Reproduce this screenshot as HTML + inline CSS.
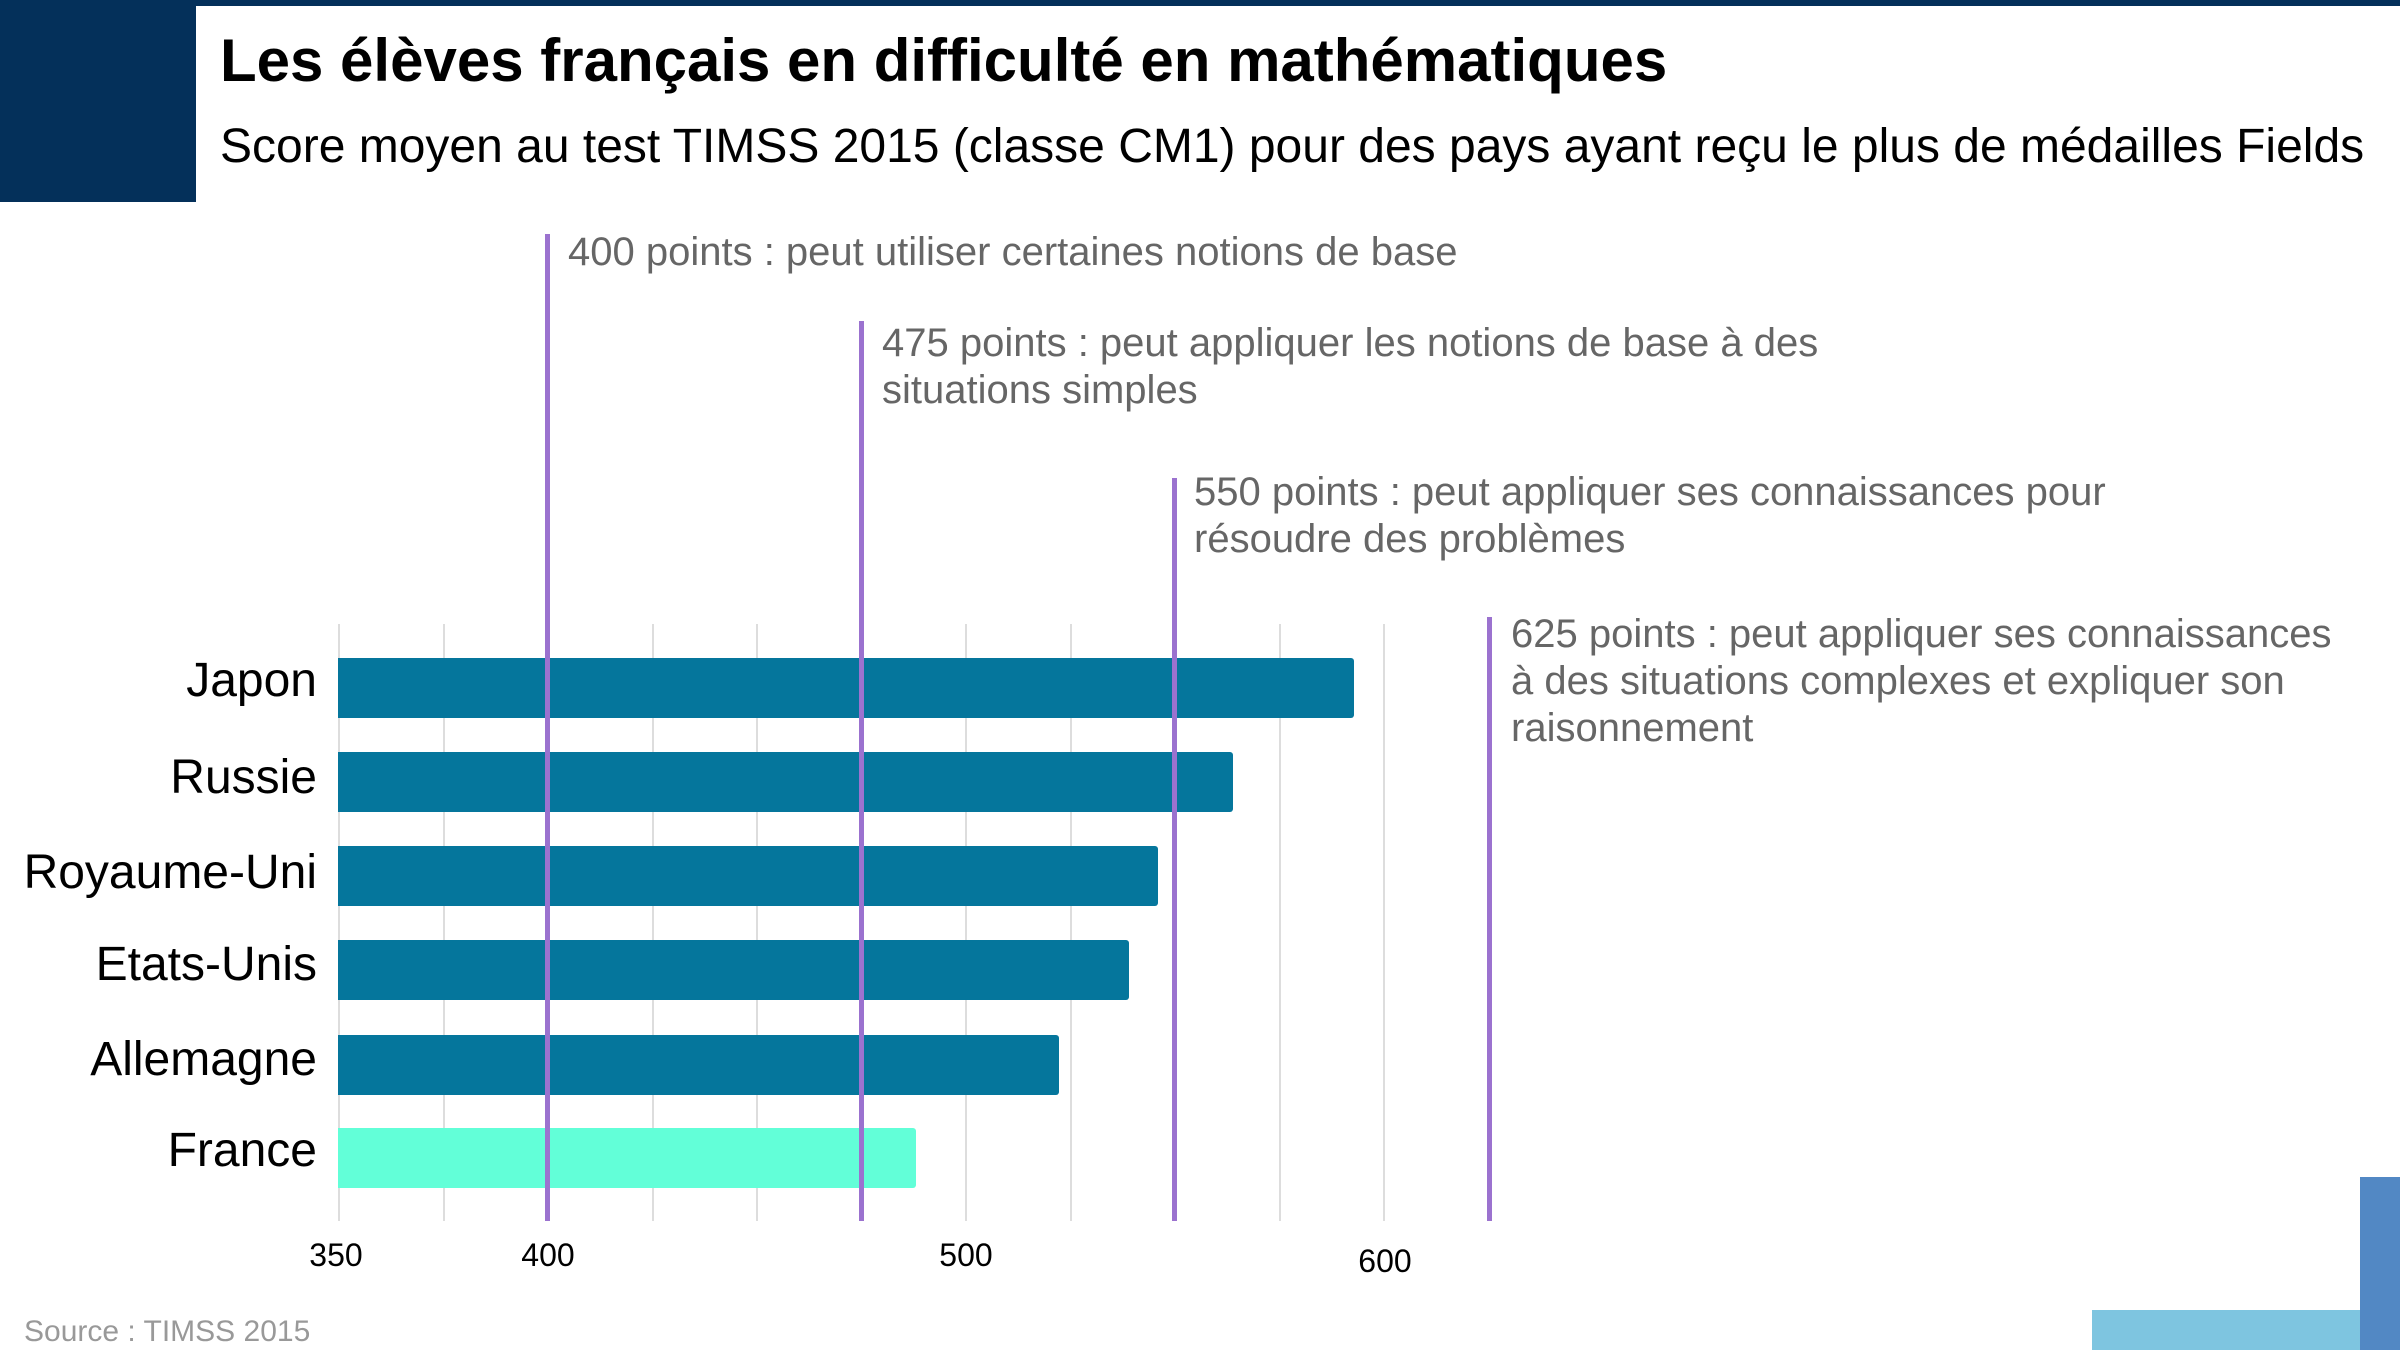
<!DOCTYPE html>
<html><head><meta charset="utf-8"><style>
body{margin:0;width:2400px;height:1350px;position:relative;background:#fff;overflow:hidden;font-family:"Liberation Sans",sans-serif}
.a{position:absolute}
.t{white-space:nowrap}
.ann{color:#666;font-size:40px;line-height:47px;white-space:nowrap}
.lab{right:2083px;font-size:48px;color:#000;text-align:right;white-space:nowrap;height:60px;line-height:60px}
.tick{font-size:32px;color:#000;transform:translateX(-50%);line-height:36px}
.g{width:2px;background:#ddd;top:624px;height:597px}
.v{width:5px;background:#9b72cf;bottom:129px}
.bar{left:338px;height:60px;background:#05769c;border-radius:0 3px 3px 0}
</style></head><body>
<div class="a" style="left:0;top:0;width:2400px;height:6px;background:#04305a"></div>
<div class="a" style="left:0;top:0;width:196px;height:202px;background:#04305a"></div>
<div class="a t" style="left:220px;top:28px;font-size:60px;font-weight:bold;line-height:66px">Les élèves français en difficulté en mathématiques</div>
<div class="a t" style="left:220px;top:119px;font-size:48px;line-height:56px">Score moyen au test TIMSS 2015 (classe CM1) pour des pays ayant reçu le plus de médailles Fields</div>

<div class="a g" style="left:338px"></div>
<div class="a g" style="left:443px"></div>
<div class="a g" style="left:547px"></div>
<div class="a g" style="left:652px"></div>
<div class="a g" style="left:756px"></div>
<div class="a g" style="left:861px"></div>
<div class="a g" style="left:965px"></div>
<div class="a g" style="left:1070px"></div>
<div class="a g" style="left:1174px"></div>
<div class="a g" style="left:1279px"></div>
<div class="a g" style="left:1383px"></div>

<div class="a bar" style="top:658px;width:1016px"></div>
<div class="a bar" style="top:752px;width:895px"></div>
<div class="a bar" style="top:846px;width:820px"></div>
<div class="a bar" style="top:940px;width:791px"></div>
<div class="a bar" style="top:1035px;width:721px"></div>
<div class="a bar" style="top:1128px;width:578px;background:#62ffd8"></div>

<div class="a lab" style="top:651px">Japon</div>
<div class="a lab" style="top:748px">Russie</div>
<div class="a lab" style="top:843px">Royaume-Uni</div>
<div class="a lab" style="top:935px">Etats-Unis</div>
<div class="a lab" style="top:1030px">Allemagne</div>
<div class="a lab" style="top:1121px">France</div>

<div class="a v" style="left:545px;top:234px"></div>
<div class="a v" style="left:859px;top:321px"></div>
<div class="a v" style="left:1172px;top:478px"></div>
<div class="a v" style="left:1487px;top:617px"></div>

<div class="a ann" style="left:568px;top:229px">400 points : peut utiliser certaines notions de base</div>
<div class="a ann" style="left:882px;top:320px">475 points : peut appliquer les notions de base à des<br>situations simples</div>
<div class="a ann" style="left:1194px;top:469px">550 points : peut appliquer ses connaissances pour<br>résoudre des problèmes</div>
<div class="a ann" style="left:1511px;top:611px">625 points : peut appliquer ses connaissances<br>à des situations complexes et expliquer son<br>raisonnement</div>

<div class="a tick" style="left:336px;top:1237px">350</div>
<div class="a tick" style="left:548px;top:1237px">400</div>
<div class="a tick" style="left:966px;top:1237px">500</div>
<div class="a tick" style="left:1385px;top:1243px">600</div>

<div class="a t" style="left:24px;top:1314px;font-size:30px;color:#999;line-height:36px">Source : TIMSS 2015</div>
<div class="a" style="left:2092px;top:1310px;width:268px;height:40px;background:#7ec5e0"></div>
<div class="a" style="left:2360px;top:1177px;width:40px;height:173px;background:#5288c4"></div>
</body></html>
